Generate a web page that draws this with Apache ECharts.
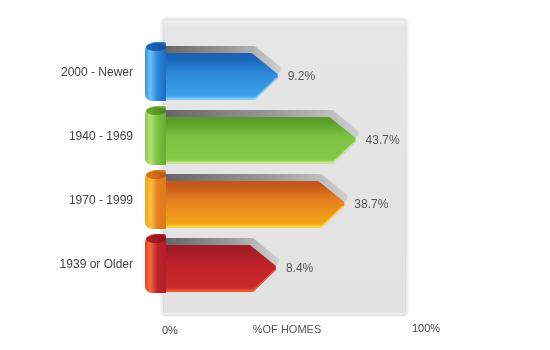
<!DOCTYPE html>
<html>
<head>
<meta charset="utf-8">
<script src="https://cdn.jsdelivr.net/npm/echarts@6/dist/echarts.min.js"></script>
<style>html,body{margin:0;padding:0;background:#fff;}#c{width:550px;height:350px;}</style>
</head>
<body>
<div id="c"></div>
<script>
// ---- data ----
const categories = ['2000 - Newer', '1940 - 1969', '1970 - 1999', '1939 or Older'];
const values = [9.2, 43.7, 38.7, 8.4];
const axisTickLabels = ['0%', '100%'];
const axisTitle = '%OF HOMES';

// ---- styles ----
const palettes = [
  {dark:'#1a62b6', main:'#2c86d9', light:'#3e9fe8', edge:'#86cdf8', curlEdge:'#3a93dc', curlL:'#6cc0f4', curlR:'#1d6cc0', cap:'#16518f'},
  {dark:'#5a9c2a', main:'#7bc141', light:'#86c94a', edge:'#c6e894', curlEdge:'#8cc850', curlL:'#b4de78', curlR:'#6aab33', cap:'#4b8722'},
  {dark:'#c4581c', main:'#e57f20', light:'#f2a414', edge:'#ffd84a', curlEdge:'#f0a018', curlL:'#fbc43a', curlR:'#de7a1c', cap:'#b95414'},
  {dark:'#a11b24', main:'#bd222a', light:'#c9292a', edge:'#f05a2c', curlEdge:'#e04326', curlL:'#f26a3c', curlR:'#b21f26', cap:'#87141b'}
];

function renderItem(params, api) {
  const idx = params.dataIndex;
  const v = api.value(0);
  const cy = api.coord([0, idx])[1] + 3;
  const tip = api.coord([v, idx])[0];
  const x0 = params.coordSys.x;
  const p = palettes[idx];
  const h1 = 23, h2 = 24, head = 28;
  const body = [[x0, cy - h1], [tip - head, cy - h1], [tip - 2, cy - 2], [tip - 2, cy + 2], [tip - head + 3, cy + h2], [x0, cy + h2]];
  const shadow = body.map(pt => [pt[0] + 3, pt[1] - 7]);
  return {
    type: 'group',
    children: [
      {type:'polygon', shape:{points: shadow, smooth: 0}, style:{
        fill:{type:'linear', x:0, y:0, x2:1, y2:0, colorStops:[
          {offset:0, color:'#666'}, {offset:0.55, color:'#999'}, {offset:0.85, color:'#bdbdbd'}, {offset:1, color:'#cfcfcf'}]}
      }},
      {type:'polygon', shape:{points: body}, style:{
        fill:{type:'linear', x:0, y:0, x2:0, y2:1, colorStops:[
          {offset:0, color:p.dark}, {offset:0.1, color:p.dark}, {offset:0.4, color:p.main}, {offset:0.9, color:p.light}, {offset:1, color:p.edge}]}
      }},
      {type:'polyline', shape:{points:[[x0, cy + h2 - 1], [tip - head + 3, cy + h2 - 1], [tip - 3, cy + 2]]}, style:{
        stroke:p.edge, lineWidth:1.5, fill:null}},
      {type:'rect', shape:{x: x0 - 18, y: cy - 34, width: 21, height: 34 + h2 + 1, r:[9, 2, 0, 7]}, style:{
        fill:{type:'linear', x:0, y:0, x2:1, y2:0, colorStops:[
          {offset:0, color:p.curlEdge}, {offset:0.25, color:p.curlL}, {offset:0.6, color:p.main}, {offset:1, color:p.curlR}]}
      }},
      {type:'ellipse', shape:{cx: x0 - 7, cy: cy - 29, rx: 10, ry: 4}, style:{
        fill:{type:'linear', x:0, y:0, x2:1, y2:0, colorStops:[
          {offset:0, color:p.curlR}, {offset:1, color:p.cap}]}
      }},
      {type:'text', style:{text: v + '%', x: tip + 8, y: cy + 1, fill:'#555', fontSize: 12, fontFamily:'Liberation Sans, Arial, sans-serif', verticalAlign:'middle'}}
    ]
  };
}

const chart = echarts.init(document.getElementById('c'), null, {renderer:'canvas'});
chart.setOption({
  animation: false,
  backgroundColor: '#fff',
  textStyle: {fontFamily: 'Liberation Sans, Arial, sans-serif'},
  graphic: [{
    type:'rect', z:-10, shape:{x:162, y:18, width:245, height:296, r:4},
    style:{
      fill:{type:'linear', x:0, y:0, x2:0, y2:1, colorStops:[
        {offset:0, color:'#f6f6f6'}, {offset:0.03, color:'#e6e6e6'}, {offset:1, color:'#e2e2e2'}]},
      stroke:'#f4f4f4', lineWidth:1.5, shadowBlur:2, shadowColor:'rgba(0,0,0,0.15)', shadowOffsetY:1
    }
  }],
  grid: [
    {left:163, right:143, top:41, bottom:53, outerBoundsMode:'none'},
    {left:162, right:138, top:300, bottom:30, outerBoundsMode:'none'}
  ],
  xAxis: [
    {gridIndex:0, type:'value', min:-42.5, max:65.6, show:false},
    {gridIndex:1, type:'value', min:0, max:100, interval:100, position:'top',
     axisLine:{show:false}, axisTick:{show:false}, splitLine:{show:false},
     axisLabel:{show:false}}
  ],
  yAxis: [
    {gridIndex:0, type:'category', data:categories, inverse:true,
     axisLine:{show:false}, axisTick:{show:false}, splitLine:{show:false},
     axisLabel:{margin:30, color:'#444', fontSize:12}},
    {gridIndex:1, type:'category', data:[''], show:false}
  ],
  series: [{
    type:'custom', xAxisIndex:0, yAxisIndex:0, z:3,
    renderItem: renderItem,
    encode:{x:0, y:1},
    data: values.map((v, i) => [v, i])
  }]
});

// axis annotation row: tick labels and axis title placed through the visible 0-100 axis scale
const y0 = chart.convertToPixel({xAxisIndex:1, yAxisIndex:1}, [0, 0])[1];
const px0 = chart.convertToPixel({xAxisIndex:1}, 0);
const px100 = chart.convertToPixel({xAxisIndex:1}, 100);
chart.setOption({
  graphic: [
    {type:'rect', z:-10, shape:{x:162, y:18, width:245, height:296, r:4}},
    {type:'text', style:{text: axisTickLabels[0], x: px0, y: 331, fill:'#444', fontSize:11, fontFamily:'Liberation Sans, Arial, sans-serif', verticalAlign:'middle'}},
    {type:'text', style:{text: axisTickLabels[1], x: px100, y: 329, fill:'#444', fontSize:11, fontFamily:'Liberation Sans, Arial, sans-serif', verticalAlign:'middle'}},
    {type:'text', style:{text: axisTitle, x: (px0 + px100) / 2, y: 330, fill:'#555', fontSize:11, fontFamily:'Liberation Sans, Arial, sans-serif', align:'center', verticalAlign:'middle'}}
  ]
});
</script>
</body>
</html>
